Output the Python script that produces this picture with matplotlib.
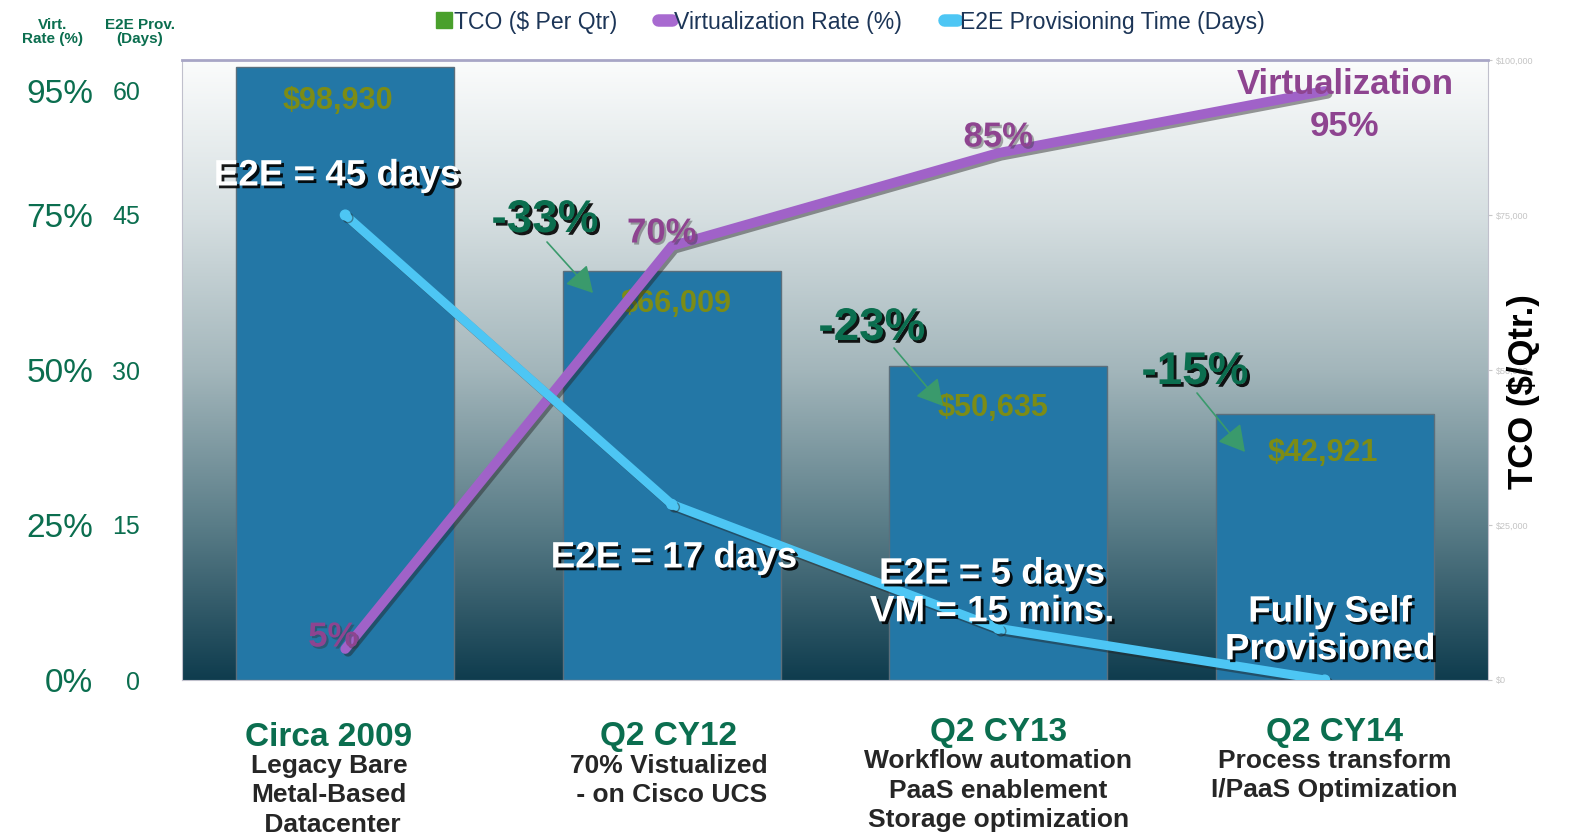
import matplotlib

matplotlib.use("Agg")
import matplotlib.pyplot as plt
import matplotlib.patheffects as pe
import numpy as np
from matplotlib import font_manager
from matplotlib.colors import LinearSegmentedColormap
from matplotlib.lines import Line2D

# ---- data -----------------------------------------------------------------
periods = ["Circa 2009", "Q2 CY12", "Q2 CY13", "Q2 CY14"]
descriptions = [
    ["Legacy Bare", "Metal-Based", " Datacenter"],
    ["70% Vistualized", " - on Cisco UCS"],
    ["Workflow automation", "PaaS enablement", "Storage optimization"],
    ["Process transform", "I/PaaS Optimization"],
]
tco = [98930, 66009, 50635, 42921]
virt_rate = [5, 70, 85, 95]
e2e_days = [45, 17, 5, 0]
tco_change = ["-33%", "-23%", "-15%"]
e2e_notes = ["E2E = 45 days", "E2E = 17 days", "E2E = 5 days\nVM = 15 mins.", "Fully Self\nProvisioned"]

virt_ticks = [0, 25, 50, 75, 95]
virt_tick_labels = ["0%", "25%", "50%", "75%", "95%"]
days_ticks = [0, 15, 30, 45, 57]
days_tick_labels = ["0", "15", "30", "45", "60"]
tco_ticks = [0, 25000, 50000, 75000, 100000]
tco_tick_labels = ["$0", "$25,000", "$50,000", "$75,000", "$100,000"]

# ---- style ----------------------------------------------------------------
names = {f.name for f in font_manager.fontManager.ttflist}
SANS = "Liberation Sans"
NARROW = "Liberation Sans Narrow" if "Liberation Sans Narrow" in names else SANS
nscale = 1.0 if NARROW != SANS else 0.85

GREEN = "#0b6e4f"
PURPLE = "#a062c8"
PURPLE_TXT = "#8e4490"
CYAN = "#4dc6f4"
BAR = "#2377a6"
OLIVE = "#7c8c16"
ARROW = "#3a9a6c"

plt.rcParams["font.family"] = [SANS, "DejaVu Sans"]

W_PX, H_PX = 1580, 840
L, T, R, B = 182, 60, 1488, 680


def at(x, y):
    """pixel position in the reference -> axes fraction"""
    return ((x - L) / (R - L), (B - y) / (B - T))


shadow_txt = [pe.SimplePatchShadow(offset=(2, -2), shadow_rgbFace="black", alpha=0.9), pe.Normal()]
soft_txt = [pe.SimplePatchShadow(offset=(1.5, -1.5), shadow_rgbFace="#333333", alpha=0.4), pe.Normal()]
line_fx = [pe.SimpleLineShadow(offset=(2, -2), shadow_color="#222222", alpha=0.45), pe.Normal()]

fig = plt.figure(figsize=(W_PX / 100, H_PX / 100), dpi=100)
ax = fig.add_axes([L / W_PX, 1 - B / H_PX, (R - L) / W_PX, (B - T) / H_PX])

# gradient background
cmap = LinearSegmentedColormap.from_list(
    "bg", [(0.0, "#0f3c4e"), (0.25, "#5a7d88"), (0.5, "#a3b6bb"), (0.75, "#d6dfe1"), (1.0, "#fbfcfc")]
)
ax.imshow(np.linspace(0, 1, 256).reshape(-1, 1), cmap=cmap, origin="lower", aspect="auto",
          extent=[0, 1, 0, 1], transform=ax.transAxes, zorder=0)

x = np.arange(len(periods))
ax.bar(x, tco, width=0.667, color=BAR, edgecolor="#5b6f7c", linewidth=1, zorder=2)
ax.set_xlim(-0.5, 3.5)
ax.set_ylim(0, 100000)
ax.set_xticks([])
for s in ["left", "bottom", "right"]:
    ax.spines[s].set_color("#c0c0cc")
ax.spines["top"].set_color("#a8a6c6")
ax.spines["top"].set_linewidth(2)

value_dx = [-7, 4, -5, -2]
value_dy = [-34, -33, -42, -39]
for i, v in enumerate(tco):
    ax.annotate(f"${v:,}", (x[i], v), xytext=(value_dx[i], value_dy[i]), textcoords="offset pixels",
                ha="center", va="center", color=OLIVE, fontsize=26 * nscale, fontweight="bold",
                family=NARROW, zorder=3)

# virtualization rate
axv = ax.twinx()
axv.plot(x, virt_rate, color=PURPLE, lw=7, solid_capstyle="round", solid_joinstyle="round",
         path_effects=line_fx, zorder=3)
axv.set_ylim(0, 100)
axv.yaxis.tick_left()
axv.set_yticks(virt_ticks)
axv.set_yticklabels(virt_tick_labels)
axv.tick_params(axis="y", length=0, pad=64, labelsize=24, colors=GREEN)
for s in axv.spines.values():
    s.set_visible(False)

# provisioning time
axd = ax.twinx()
axd.plot(x, e2e_days, color=CYAN, lw=6.5, marker="o", markersize=7, solid_capstyle="round",
         path_effects=line_fx, zorder=4)
axd.set_ylim(0, 60)
axd.yaxis.tick_left()
axd.set_yticks(days_ticks)
axd.set_yticklabels(days_tick_labels)
axd.tick_params(axis="y", length=0, pad=30, labelsize=18, colors=GREEN)
for s in axd.spines.values():
    s.set_visible(False)

# TCO axis ticks on the right (twinx moved them to the left)
ax.yaxis.tick_right()
ax.set_yticks(tco_ticks)
ax.set_yticklabels(tco_tick_labels)
ax.tick_params(axis="y", colors="#c8c8c8", labelcolor="#c4c4c4", labelsize=6.5, length=3, pad=3)

# virtualization labels
virt_dx = [-12, -10, 0, 0]
virt_dy = [12, 13, 16, 0]
for i, v in enumerate(virt_rate[:3]):
    axd.annotate(f"{v}%", (x[i], v * 0.6), xytext=(virt_dx[i], virt_dy[i]), textcoords="offset pixels",
                 ha="center", va="center", color=PURPLE_TXT, fontsize=25, fontweight="bold",
                 path_effects=soft_txt, zorder=6)
axd.text(*at(1345, 85), "Virtualization", transform=axd.transAxes, ha="center", va="center",
         color=PURPLE_TXT, fontsize=25, fontweight="bold", zorder=6)
axd.text(*at(1345, 127), f"{virt_rate[3]}%", transform=axd.transAxes, ha="center", va="center",
         color=PURPLE_TXT, fontsize=25, fontweight="bold", zorder=6)

# E2E notes
note_pos = [(337, 176), (674, 558), (992, 593), (1330, 631)]
for (px, py), txt in zip(note_pos, e2e_notes):
    axd.text(*at(px, py), txt, transform=axd.transAxes, ha="center", va="center", color="white",
             fontsize=26.5, fontweight="bold", linespacing=1.1, path_effects=shadow_txt, zorder=7)

# TCO change callouts with arrows
change_pos = [(545, 220), (872, 328), (1195, 372)]
arrow_from = [(547, 242), (894, 348), (1197, 393)]
arrow_to = [(593, 293), (943, 406), (1245, 452)]
for txt, tp, a0, a1 in zip(tco_change, change_pos, arrow_from, arrow_to):
    axd.annotate("", xy=at(*a1), xytext=at(*a0), xycoords="axes fraction", textcoords="axes fraction",
                 arrowprops=dict(arrowstyle="-|>,head_length=1.6,head_width=0.9", color=ARROW, lw=1.2,
                                 shrinkA=0, shrinkB=0),
                 zorder=6)
    axd.text(*at(*tp), txt, transform=axd.transAxes, ha="center", va="center", color=GREEN,
             fontsize=33, fontweight="bold", path_effects=shadow_txt, zorder=7)

# category labels under the plot
period_dx = [-0.05, -0.01, 0.0, 0.03]
period_y = [737, 737, 732, 732]
for i, (p, desc) in enumerate(zip(periods, descriptions)):
    top_y = period_y[i]
    ax.text(x[i] + period_dx[i], (B - top_y) / (B - T), p, transform=ax.get_xaxis_transform(),
            ha="center", va="center", color=GREEN, fontsize=24, fontweight="bold", clip_on=False)
    for j, line in enumerate(desc):
        ax.text(x[i] + period_dx[i], (B - (top_y + 29 + 29.5 * j)) / (B - T), line,
                transform=ax.get_xaxis_transform(), ha="center", va="center", color="#262626",
                fontsize=19, fontweight="bold", clip_on=False)

fig.text(1524 / W_PX, 1 - 392 / H_PX, "TCO ($/Qtr.)", rotation=90, ha="center", va="center",
         fontsize=25, fontweight="bold", color="black")
fig.text(53 / W_PX, 1 - 32 / H_PX, "Virt.\nRate (%)", ha="center", va="center", fontsize=11,
         fontweight="bold", color=GREEN, linespacing=1.05)
fig.text(140 / W_PX, 1 - 32 / H_PX, "E2E Prov.\n(Days)", ha="center", va="center", fontsize=11,
         fontweight="bold", color=GREEN, linespacing=1.05)

handles = [
    Line2D([], [], marker="s", color="#4aa02c", linestyle="none", markersize=12),
    Line2D([], [], color="#a86ad0", lw=9, solid_capstyle="round"),
    Line2D([], [], color=CYAN, lw=9, solid_capstyle="round"),
]
leg = fig.legend(handles, ["TCO ($ Per Qtr)", "Virtualization Rate (%)", "E2E Provisioning Time (Days)"],
                 loc="center", bbox_to_anchor=(851 / W_PX, 1 - 22 / H_PX), ncol=3, frameon=False,
                 handlelength=0.6, handletextpad=0.1, columnspacing=1.8,
                 prop=dict(family=NARROW, size=19.5 * nscale))
for t in leg.get_texts():
    t.set_color("#1c3557")

fig.savefig("out.png", dpi=100)
